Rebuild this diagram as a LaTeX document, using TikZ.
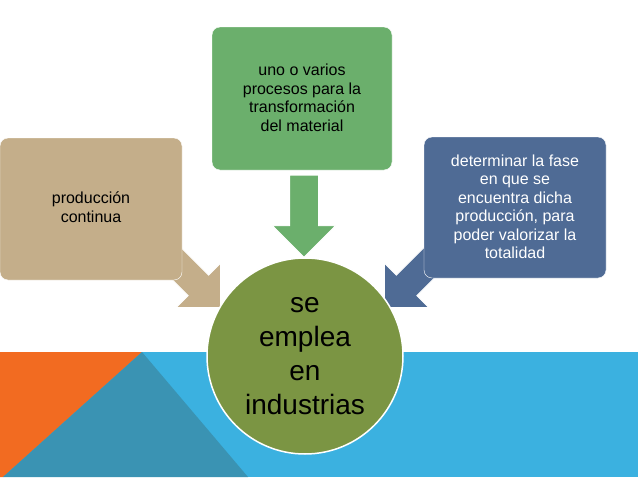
\documentclass[tikz,border=0pt]{standalone}
\usepackage{fontspec}
\setmainfont{Liberation Sans}
\usetikzlibrary{shapes.arrows}
\definecolor{bandblue}{HTML}{3BB1E0}
\definecolor{darkteal}{HTML}{3A93B3}
\definecolor{orng}{HTML}{F26B21}
\definecolor{tan}{HTML}{C4AE8A}
\definecolor{grn}{HTML}{6BAF6C}
\definecolor{slate}{HTML}{4F6B95}
\definecolor{olive}{HTML}{7B9543}
\tikzset{
 x=1pt,y=-1pt,
 boxtext/.style={font=\fontsize{16}{18.5}\selectfont,align=center},
 arr/.style={single arrow,draw=white,line width=0.8pt,single arrow head extend=17pt,text height=28pt,text depth=0pt,text width=0pt,inner sep=0pt,minimum height=#1}
}
\begin{document}
\begin{tikzpicture}
\useasboundingbox (0,0) rectangle (638,479);
\fill[white] (0,0) rectangle (638,479);
\fill[bandblue] (0,352) rectangle (638,477);
\fill[orng] (0,352) -- (142,352) -- (3,477) -- (0,477) -- cycle;
\fill[darkteal] (142,352) -- (3,477) -- (248,477) -- cycle;
% arrows
\node[arr=82pt,fill=grn,rotate=-90] (a2) at (304,209) {};
\node[arr=75pt,fill=tan,rotate=-45] (a1) at (189,276) {};
\node[arr=75pt,fill=slate,rotate=-135] (a3) at (416,276) {};
% boxes
\path[fill=tan,draw=white,rounded corners=8pt] (0,138) rectangle (182,280);
\node[boxtext] (b1) at (91,207) {producción\\continua};
\path[fill=grn,draw=white,rounded corners=8pt] (212,27) rectangle (392,170);
\node[boxtext] (b2) at (302,98) {uno o varios\\procesos para la\\transformación\\del material};
\path[fill=slate,draw=white,rounded corners=8pt] (424,137) rectangle (606,278);
\node[boxtext,text=white] (b3) at (515,207) {determinar la fase\\en que se\\encuentra dicha\\producción, para\\poder valorizar la\\totalidad};
% circle
\node[circle,fill=olive,draw=white,line width=1.5pt,minimum size=196pt,align=center,font=\fontsize{28}{34}\selectfont] (c) at (305,356) {se\\emplea\\en\\industrias};
\end{tikzpicture}
\end{document}
